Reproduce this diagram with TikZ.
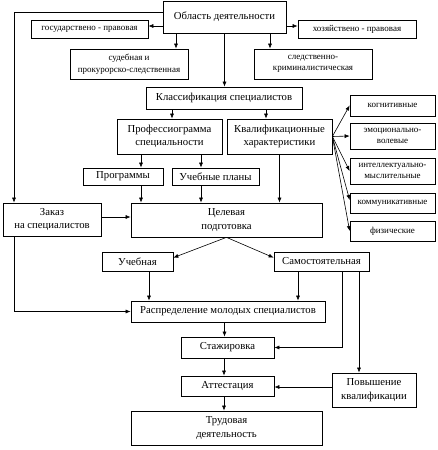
\documentclass[tikz,border=0pt]{standalone}
\usepackage{fontspec}
\setmainfont{Liberation Serif}
\usetikzlibrary{arrows.meta}
\tikzset{
  box/.style={draw, line width=0.7pt, inner sep=0pt, align=center, font=\fontsize{10.7}{13.5}\selectfont},
  sbox/.style={box, font=\fontsize{9}{11.5}\selectfont},
  arr/.style={draw, line width=0.6pt, -{Latex[length=5pt,width=4pt]}},
  ln/.style={draw, line width=0.6pt}
}
\newcommand{\bx}[7][box]{%
  \node[#1, minimum width=#5pt-#3pt, minimum height=#6pt-#4pt] (#2) at ({(#3+#5)/2},{(#4+#6)/2}) {#7};}
\begin{document}
\begin{tikzpicture}[x=1pt,y=-1pt]
\useasboundingbox (0,0) rectangle (438,450);
\bx{obl}{163}{1}{286}{33}{Область деятельности}
\bx[sbox]{gos}{31}{20}{148}{38}{государствено - правовая}
\bx[sbox]{hoz}{298}{20}{416}{38}{хозяйствено - правовая}
\bx[sbox]{sud}{70}{49}{188}{79}{судебная и\\прокурорско-следственная}
\bx[sbox]{sled}{254}{49}{372}{79}{следственно-\\криминалистическая}
\bx{kl}{146}{87}{302}{109}{Классификация специалистов}
\bx{prof}{117}{119}{222}{154}{Профессиограмма\\специальности}
\bx{kval}{227}{119}{332}{154}{Квалификационные\\характеристики}
\bx[sbox]{kog}{350}{95}{435}{116}{когнитивные}
\bx[sbox]{emo}{350}{123}{435}{149}{эмоционально-\\волевые}
\bx[sbox]{int}{350}{158}{435}{184}{интеллектуально-\\мыслительные}
\bx[sbox]{kom}{350}{193}{435}{213}{коммуникативные}
\bx[sbox]{fiz}{350}{221}{435}{241}{физические}
\bx{prog}{83}{168}{163}{185}{Программы}
\bx{upl}{172}{168}{259}{185}{Учебные планы}
\bx{zak}{3}{203}{101}{236}{Заказ\\на специалистов}
\bx{cel}{131}{203}{322}{237}{Целевая\\подготовка}
\bx{ucheb}{102}{252}{173}{271}{Учебная}
\bx{sam}{274}{252}{369}{271}{Самостоятельная}
\bx{rasp}{131}{301}{325}{322}{Распределение молодых специалистов}
\bx{staj}{181}{337}{274}{358}{Стажировка}
\bx{att}{181}{376}{274}{396}{Аттестация}
\bx{trud}{131}{411}{322}{445}{Трудовая\\деятельность}
\bx{pov}{332}{373}{416}{407}{Повышение\\квалификации}
% top
\draw[arr] ([yshift=-9pt]obl.west) -- ([yshift=-9pt]obl.west -| gos.east);
\draw[arr] ([yshift=-9pt]obl.east) -- ([yshift=-9pt]obl.east -| hoz.west);
\draw[arr] ([yshift=5pt]obl.west) -| ([xshift=-38pt]zak.north);
\draw[arr] ([xshift=-48.5pt]obl.south) -- ([xshift=-48.5pt]obl.south |- sud.north);
\draw[arr] ([xshift=45.5pt]obl.south) -- ([xshift=45.5pt]obl.south |- sled.north);
\draw[arr] (obl.south) -- (obl.south |- kl.north);
\draw[arr] ([xshift=-52pt]kl.south) -- ([xshift=-52pt]kl.south |- prof.north);
\draw[arr] ([xshift=42pt]kl.south) -- ([xshift=42pt]kl.south |- kval.north);
\draw[arr] ([xshift=-28.5pt]prof.south) -- ([xshift=-28.5pt]prof.south |- prog.north);
\draw[arr] ([xshift=31.5pt]prof.south) -- ([xshift=31.5pt]prof.south |- upl.north);
\draw[arr] ([xshift=18pt]prog.south) -- ([xshift=18pt]prog.south |- cel.north);
\draw[arr] ([xshift=-14.5pt]upl.south) -- ([xshift=-14.5pt]upl.south |- cel.north);
\draw[arr] (kval.south) -- (kval.south |- cel.north);
% fan
\draw[arr] (kval.east) -- (kog.west);
\draw[arr] (kval.east) -- (emo.west);
\draw[arr] (kval.east) -- (int.west);
\draw[arr] (kval.east) -- ([yshift=3pt]kom.west);
\draw[arr] (kval.east) -- (fiz.west);
% middle
\draw[arr] ([yshift=2.5pt]zak.east) -- ([yshift=2.5pt]zak.east -| cel.west);
\draw[arr] (cel.south) -- ([yshift=-6pt]ucheb.north east);
\draw[arr] (cel.south) -- ([yshift=-6pt]sam.north west);
\draw[arr] ([xshift=11.5pt]ucheb.south) -- ([xshift=11.5pt]ucheb.south |- rasp.north);
\draw[arr] ([xshift=-23.5pt]sam.south) -- ([xshift=-23.5pt]sam.south |- rasp.north);
\draw[arr] ([xshift=20.5pt]sam.south) |- (staj.east);
\draw[arr] ([xshift=37.5pt]sam.south) -- ([xshift=37.5pt]sam.south |- pov.north);
\draw[arr] ([xshift=-38pt]zak.south) |- (rasp.west);
% bottom
\draw[arr] ([xshift=-3.5pt]rasp.south) -- ([xshift=-3.5pt]rasp.south |- staj.north);
\draw[arr] ([xshift=-3.5pt]staj.south) -- ([xshift=-3.5pt]staj.south |- att.north);
\draw[arr] ([xshift=-3.5pt]att.south) -- ([xshift=-3.5pt]att.south |- trud.north);
\draw[arr] ([yshift=3pt]pov.west) -- ([yshift=3pt]pov.west -| att.east);
\end{tikzpicture}
\end{document}
